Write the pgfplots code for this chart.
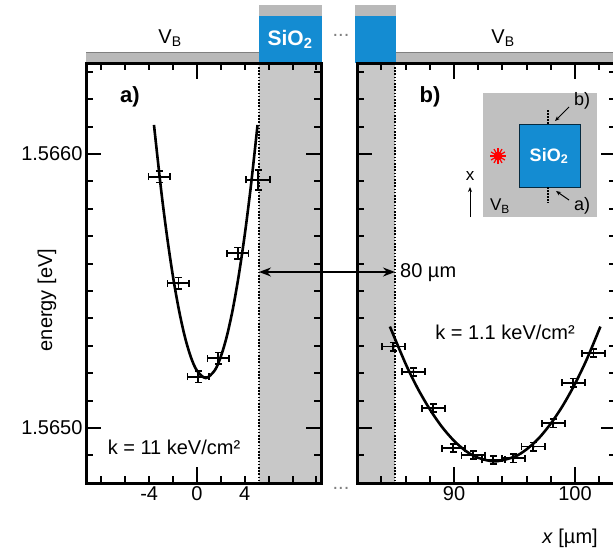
\documentclass[border=0pt]{standalone}
\usepackage{fontspec}
\setmainfont{Liberation Sans}
\usepackage{pgfplots}
\usepackage{pgfplotstable}
\pgfplotsset{compat=1.18}
\usetikzlibrary{arrows.meta}

\definecolor{sio}{RGB}{20,140,210}
\definecolor{regiongray}{RGB}{200,200,200}
\definecolor{strip}{RGB}{185,185,185}
\definecolor{insetgray}{RGB}{192,192,192}
\newcommand{\fs}{\fontsize{20}{24}\selectfont}

% energies in micro-eV above 1.565 eV
\pgfplotstableread{
x y ex ey
-3.15 917 0.9 21
-1.56 528 0.9 21
0.11 187 0.9 21
1.78 254 0.9 21
3.41 638 0.9 21
5.13 905 1.0 36
}\dataA

\pgfplotstableread{
x y
-3.6 1106
-3.0 868
-2.5 697
-2.0 550
-1.5 428
-1.0 330
-0.5 257
0.0 209
0.735 182
1.5 211
2.0 261
2.5 335
3.0 434
3.5 558
4.0 706
4.5 879
5.07 1106
}\fitA

\pgfplotstableread{
x y ex ey
84.98 297 0.96 15
86.64 205 0.96 15
88.29 72 0.96 15
89.94 -74 0.96 15
91.59 -99 0.96 15
93.25 -117 0.96 15
94.90 -111 0.96 15
96.55 -68 0.96 15
98.21 17 0.96 15
99.86 165 0.96 15
101.52 273 0.96 15
}\dataB

\pgfplotstableread{
x y
84.7 370
86 234
87 144
88 68
89 4
90 -47
91 -85
92 -109
93.4 -122
95 -105
96 -78
97 -38
98 16
99 82
100 161
101 253
102.1 370
}\fitB

\pgfplotsset{
  panel/.style={
    scale only axis, height=420pt, anchor=south west,
    ymin=-201, ymax=1332,
    ytick={0,1000},
    major tick length=0pt, minor tick length=0pt,
    axis line style={line width=3pt},
    tick label style={font=\fs},
    axis on top,
  },
  pts/.style={only marks, mark=*, mark size=1.4pt, black,
    error bars/.cd, x dir=both, x explicit, y dir=both, y explicit,
    error bar style={line width=1.7pt, black},
    error mark options={rotate=90, mark size=3.5pt, line width=1.7pt, black}},
}

\begin{document}
\begin{tikzpicture}
\path[use as bounding box] (0pt,0pt) rectangle (613pt,-552pt);

\begin{scope}[x=1pt,y=-1pt]
  % top strips and SiO2 blocks
  \fill[strip] (86,52) rectangle (259,63);
  \draw[gray, line width=0.8pt] (86,52.4) -- (259,52.4);
  \fill[strip] (259,5) rectangle (322,16);
  \fill[sio] (259,16) rectangle (322,63);
  \fill[strip] (355,5) rectangle (396,16);
  \fill[sio] (355,16) rectangle (396,63);
  \fill[strip] (396,52) rectangle (616,63);
  \draw[gray, line width=0.8pt] (396,52.4) -- (616,52.4);
  \node[white, font=\bfseries\fontsize{21}{24}\selectfont] at (290,39) {SiO\textsubscript{2}};
  \node[font=\fs] at (170,38) {V\textsubscript{B}};
  \node[font=\fs] at (503,38) {V\textsubscript{B}};
  \node[gray, font=\fs] at (341,35) {...};
  \node[gray, font=\fs] at (341,488) {...};
  \node[rotate=90, font=\fs] at (47,300) {energy [eV]};
  \node[font=\fs] at (570,538) {\textit{x} [µm]};
\end{scope}

% left panel
\begin{axis}[panel, at={(86pt,-483pt)}, width=235pt,
  xmin=-9.29, xmax=10.38,
  xtick={-4,0,4}, xticklabels={-4,0,4},
  yticklabels={1.5650,1.5660},
]
  \addplot[draw=none, fill=regiongray] coordinates {(5.2,-300) (11,-300) (11,1400) (5.2,1400)} -- cycle;
  \addplot[black, line width=1.6pt, dash pattern=on 1.6pt off 1.6pt] coordinates {(5.2,-300) (5.2,1400)};
  \addplot[black, line width=2.6pt, smooth] table[x=x,y=y] {\fitA};
  \addplot[pts] table[x=x,y=y,x error=ex,y error=ey] {\dataA};
\end{axis}

% right panel
\begin{axis}[panel, at={(357pt,-483pt)}, width=259pt,
  xmin=81.98, xmax=103.39,
  xtick={90,100}, xticklabels={90,100},
  yticklabels={},
]
  \addplot[draw=none, fill=regiongray] coordinates {(80,-300) (85.1,-300) (85.1,1400) (80,1400)} -- cycle;
  \addplot[black, line width=1.6pt, dash pattern=on 1.6pt off 1.6pt] coordinates {(85.1,-300) (85.1,1400)};
  \addplot[black, line width=2.6pt, smooth] table[x=x,y=y] {\fitB};
  \addplot[pts] table[x=x,y=y,x error=ex,y error=ey] {\dataB};
\end{axis}

\begin{scope}[x=1pt,y=-1pt]
  % axis tick marks as filled bars along the frames
  \foreach \i in {-1,1,2,3,4,5,6,7,8,9,11,12,13} {
    \pgfmathsetmacro{\yy}{427.9-27.4*\i}
    \fill[black] (86,\yy-1) rectangle (93,\yy+1);
    \fill[black] (321,\yy-1) rectangle (314,\yy+1);
    \fill[black] (357,\yy-1) rectangle (364,\yy+1);
    \fill[black] (616,\yy-1) rectangle (609,\yy+1);}
  \foreach \yy in {427.9,154.0} {
    \fill[black] (86,\yy-1) rectangle (101,\yy+1);
    \fill[black] (321,\yy-1) rectangle (306,\yy+1);
    \fill[black] (357,\yy-1) rectangle (372,\yy+1);
    \fill[black] (616,\yy-1) rectangle (601,\yy+1);}
  \foreach \k in {-4,-3,-2,-1,1,2,3,4,5} {
    \pgfmathsetmacro{\xx}{197.0+23.894*\k}
    \fill[black] (\xx-1,483) rectangle (\xx+1,476);
    \fill[black] (\xx-1,63) rectangle (\xx+1,70);}
  \fill[black] (196,483) rectangle (198,467);
  \fill[black] (196,63) rectangle (198,79);
  \foreach \k in {-3,-2,-1,1,2,3,4,6} {
    \pgfmathsetmacro{\xx}{454.0+24.19*\k}
    \fill[black] (\xx-1,483) rectangle (\xx+1,476);
    \fill[black] (\xx-1,63) rectangle (\xx+1,70);}
  \foreach \xx in {454.0,575.0} {
    \fill[black] (\xx-1,483) rectangle (\xx+1,467);
    \fill[black] (\xx-1,63) rectangle (\xx+1,79);}
  % distance arrow
  \draw[{Stealth[length=12pt,width=9pt]}-{Stealth[length=12pt,width=9pt]}, line width=1.5pt] (259,272) -- (395,272);
  \node[anchor=west, font=\fs, inner sep=0pt] at (400,273) {80 µm};
  % panel labels and k values
  \node[font=\bfseries\fontsize{22}{26}\selectfont] at (130,97) {a)};
  \node[font=\bfseries\fontsize{22}{26}\selectfont] at (430,97) {b)};
  \node[font=\fs] at (174,447) {k = 11 keV/cm²};
  \node[font=\fs] at (505,332) {k = 1.1 keV/cm²};
  % inset sketch
  \fill[insetgray] (483,93) rectangle (597,217);
  \fill[sio] (519,124) rectangle (580,187);
  \draw[black!70!sio, line width=0.6pt] (519,124) rectangle (580,187);
  \node[white, font=\bfseries\fontsize{18}{20}\selectfont] at (549,156) {SiO\textsubscript{2}};
  \draw[black, line width=1.3pt, dash pattern=on 1.5pt off 1.5pt] (548,110) -- (548,124);
  \draw[black, line width=1.3pt, dash pattern=on 1.5pt off 1.5pt] (548,187) -- (548,203);
  \fill[red] (498,156) circle (4.5);
  \foreach \a in {0,30,...,330} \draw[red, line width=1.2pt] (498,156) -- ++(\a:8);
  \node[font=\fontsize{18}{20}\selectfont] at (582,101) {b)};
  \draw[-{Stealth[length=5pt,width=4pt]}, line width=1pt] (569,107) -- (555,121);
  \node[font=\fontsize{18}{20}\selectfont] at (582,206) {a)};
  \draw[-{Stealth[length=5pt,width=4pt]}, line width=1pt] (569,200) -- (556,191);
  \node[font=\fontsize{17}{20}\selectfont] at (470,176) {x};
  \draw[-{Stealth[length=5pt,width=4pt]}, line width=1pt] (470,217) -- (470,187);
  \node[font=\fontsize{17}{20}\selectfont] at (500,206) {V\textsubscript{B}};
\end{scope}
\end{tikzpicture}
\end{document}
